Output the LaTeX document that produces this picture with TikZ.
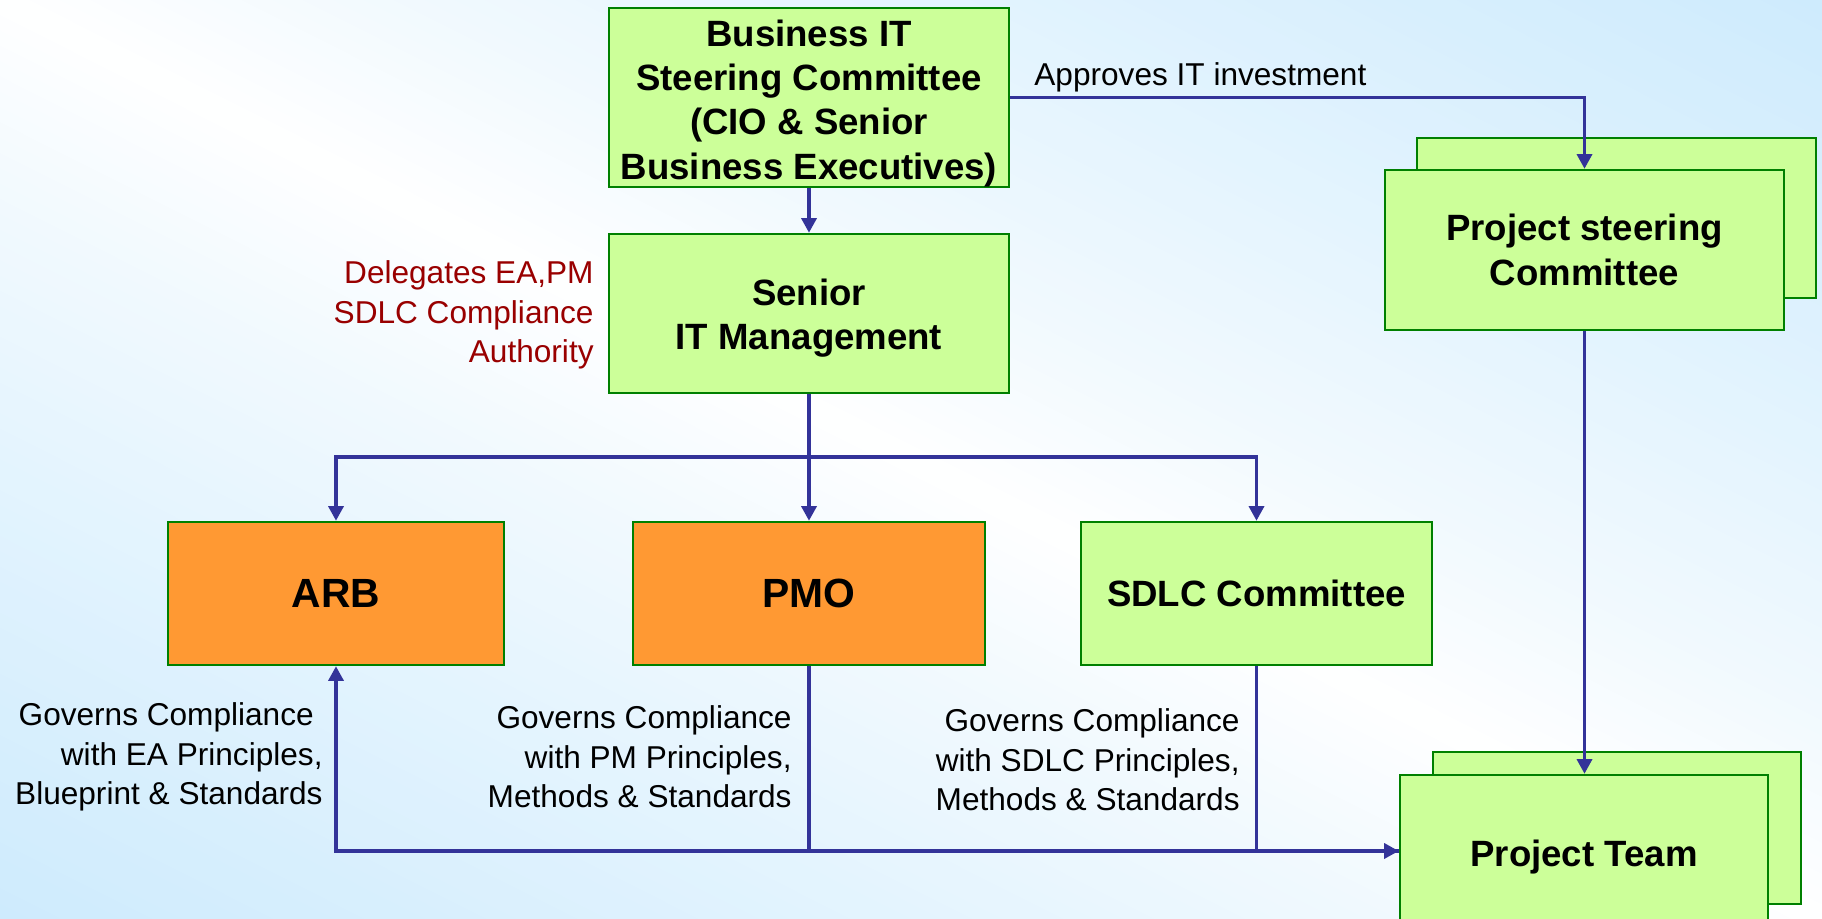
\documentclass[tikz,border=0pt]{standalone}
\usepackage{fontspec}
\setmainfont{Liberation Sans}
\usetikzlibrary{arrows.meta}
\definecolor{boxgreen}{RGB}{204,255,153}
\definecolor{boxorange}{RGB}{255,153,51}
\definecolor{boxborder}{RGB}{0,128,0}
\definecolor{arrowblue}{RGB}{51,51,153}
\definecolor{textred}{RGB}{153,0,0}
\definecolor{bgblue}{RGB}{206,235,253}
\tikzset{
  gbox/.style={draw=boxborder, line width=1.25pt, fill=boxgreen, align=center,
    font=\fontsize{18.3}{22.2}\selectfont\bfseries, inner sep=0pt},
  obox/.style={gbox, fill=boxorange, font=\fontsize{20.4}{24}\selectfont\bfseries},
  lbl/.style={font=\fontsize{15.8}{19.75}\selectfont, align=right, inner sep=0pt},
  arr/.style={draw=arrowblue, line width=1.65pt, -{Triangle[length=7.3pt,width=7.5pt]}},
  conn/.style={draw=arrowblue, line width=1.65pt},
}
\begin{document}
\begin{tikzpicture}[x=0.5pt,y=-0.5pt]
\useasboundingbox (0,0) rectangle (1822,919);
% background: white along the top-left/bottom-right diagonal, light blue towards the other corners
\begin{scope}
\clip (0,0) rectangle (1822,919);
\foreach \i in {-60,...,59}{
  \pgfmathsetmacro{\aone}{\i/60}
  \pgfmathsetmacro{\atwo}{(\i+1.15)/60}
  \pgfmathsetmacro{\pct}{100*(abs((\i+0.5)/60))^0.85}
  \fill[bgblue!\pct!white] (0,{-\aone*919}) -- (1822,{919*(1-\aone)}) -- (1822,{919*(1-\atwo)}) -- (0,{-\atwo*919}) -- cycle;
}
\end{scope}

% boxes
\node[gbox, minimum width=200pt, minimum height=88.5pt] (bit) at (809,97.5)
  {\rule{0pt}{19pt}Business IT\\Steering Committee\\(CIO \& Senior\\Business Executives)};
\node[gbox, minimum width=200pt, minimum height=79.5pt] (sim) at (809,313.5)
  {\rule{0pt}{18pt}Senior\\IT Management};
\node[obox, minimum width=168pt, minimum height=71.5pt] (arb) at (336,593.5) {ARB};
\node[obox, minimum width=176pt, minimum height=71.5pt] (pmo) at (809,593.5) {PMO};
\node[gbox, minimum width=175.5pt, minimum height=71.5pt] (sdlc) at (1256.5,593.5) {SDLC Committee};

\node[gbox, minimum width=199.5pt, minimum height=80pt] (pscback) at (1616.5,218) {};
\node[gbox, minimum width=199.5pt, minimum height=80pt] (psc) at (1584.5,250)
  {Project steering\\Committee};

\node[gbox, minimum width=184pt, minimum height=76pt] (ptback) at (1617,828) {};
\node[gbox, minimum width=184pt, minimum height=76pt] (pt) at (1584,851) {\rule{0pt}{19pt}Project Team};

% labels
\node[lbl, anchor=base west] (appr) at (1034,86) {Approves IT investment};
\node[lbl, text=textred, anchor=east] (deleg) at (594,315)
  {Delegates EA,PM\\SDLC Compliance\\Authority};
\node[lbl, anchor=east] (govea) at (323,757)
  {Governs Compliance\hspace*{0.28em}\\with EA Principles,\\Blueprint \& Standards};
\node[lbl, anchor=east] (govpm) at (792,757)
  {Governs Compliance\\with PM Principles,\\Methods \& Standards};
\node[lbl, anchor=east] (govsd) at (1240,760)
  {Governs Compliance\\with SDLC Principles,\\Methods \& Standards};

% connectors
\coordinate (j) at (809,457);
\draw[arr] (bit.south) -- (sim.north);
\draw[arr] (bit.east) -| (psc.north);
\draw[conn] (sim.south) -- (j);
\draw[arr] (j) -| (arb.north);
\draw[arr] (j) -- (pmo.north);
\draw[arr] (j) -| (sdlc.north);
\draw[arr] (pmo.south) |- (pt.west);
\draw[conn] (sdlc.south) |- (pt.west);
\draw[arr] (pmo.south |- pt.west) -| (arb.south);
\draw[arr] (psc.south) -- (psc.south |- pt.north);
\end{tikzpicture}
\end{document}
